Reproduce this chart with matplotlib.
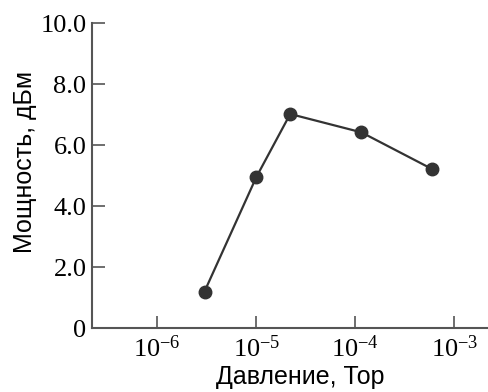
import numpy as np
import matplotlib.pyplot as plt

pressure = [3e-6, 1e-5, 2.2e-5, 1.15e-4, 6e-4]
power = [1.2, 4.95, 7.02, 6.42, 5.21]
y_ticks = [0, 2, 4, 6, 8, 10]
y_labels = ['0', '2.0', '4.0', '6.0', '8.0', '10.0']
x_ticks = [1e-6, 1e-5, 1e-4, 1e-3]
x_labels = [r'$\mathregular{10^{-6}}$', r'$\mathregular{10^{-5}}$',
            r'$\mathregular{10^{-4}}$', r'$\mathregular{10^{-3}}$']

plt.rcParams['font.family'] = 'Liberation Serif'
plt.rcParams['mathtext.fontset'] = 'custom'
plt.rcParams['mathtext.rm'] = 'Liberation Serif'

fig = plt.figure(figsize=(4.89, 3.92), dpi=100)
ax = fig.add_axes([0.188, 0.163, 0.812, 0.778])

ax.plot(pressure, power, color='#333333', lw=1.6, marker='o', ms=9,
        markerfacecolor='#333333', markeredgecolor='#333333')

ax.set_xscale('log')
ax.set_xlim(10**-6.66, 10**-2.65)
ax.set_ylim(0, 10)
ax.minorticks_off()

ax.set_yticks(y_ticks)
ax.set_yticklabels(y_labels, fontsize=19)
ax.set_xticks(x_ticks)
ax.set_xticklabels(x_labels, fontsize=19)

ax.tick_params(direction='in', length=9, width=1.2, color='#555555', pad=5)
ax.tick_params(axis='y', pad=4)
for s in ['top', 'right']:
    ax.spines[s].set_visible(False)
for s in ['left', 'bottom']:
    ax.spines[s].set_color('#555555')
    ax.spines[s].set_linewidth(1.5)

# axis titles placed by hand, as in the original
ax.text(0.524, -0.161, 'Давление, Тор', transform=ax.transAxes,
        family='Liberation Sans', fontsize=18, ha='center', va='center')
ax.text(-0.169, 0.546, 'Мощность, дБм', transform=ax.transAxes,
        family='Liberation Sans', fontsize=18, ha='center', va='center',
        rotation=90)

fig.savefig('out.png', dpi=100)
